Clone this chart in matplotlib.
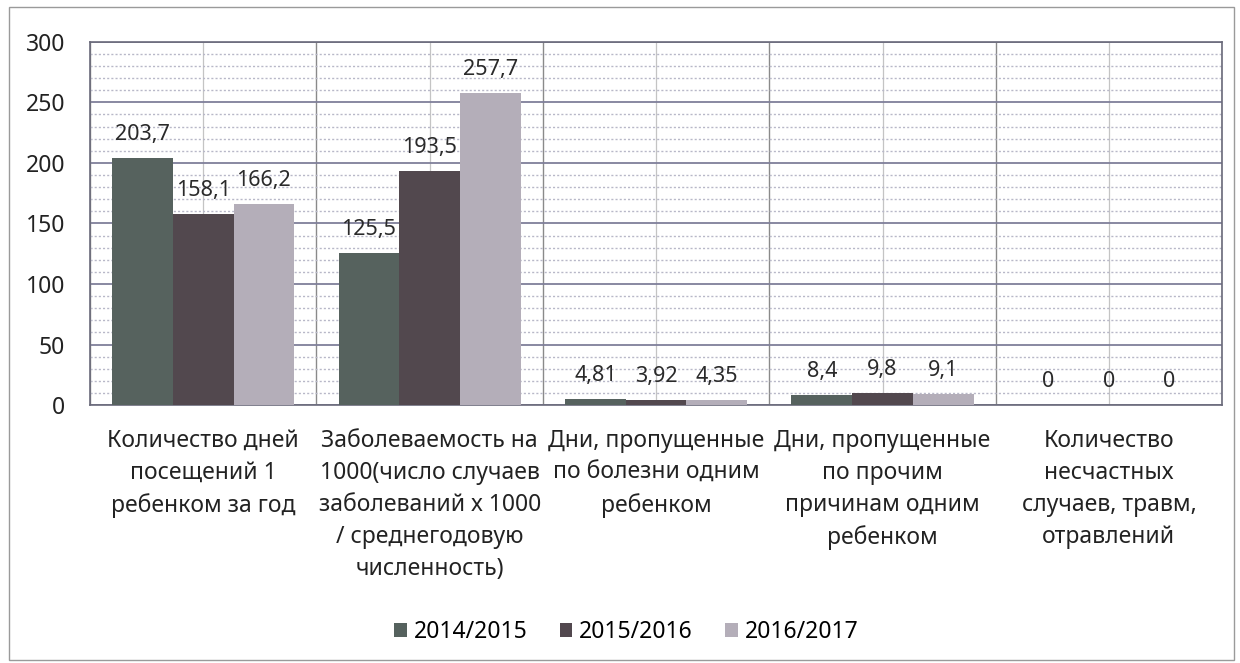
import numpy as np
import matplotlib
matplotlib.use("Agg")
import matplotlib.pyplot as plt
from matplotlib.patches import Rectangle

plt.rcParams['font.family'] = ['Noto Sans', 'DejaVu Sans']

# ---------------- data ----------------
categories = [
    "Количество дней\nпосещений 1\nребенком за год",
    "Заболеваемость на\n1000(число случаев\nзаболеваний х 1000\n/ среднегодовую\nчисленность)",
    "Дни, пропущенные\nпо болезни одним\nребенком",
    "Дни, пропущенные\nпо прочим\nпричинам одним\nребенком",
    "Количество\nнесчастных\nслучаев, травм,\nотравлений",
]
series_names = ["2014/2015", "2015/2016", "2016/2017"]
v_2014 = [203.7, 125.5, 4.81, 8.4, 0]
v_2015 = [158.1, 193.5, 3.92, 9.8, 0]
v_2016 = [166.2, 257.7, 4.35, 9.1, 0]
value_labels = [
    ["203,7", "125,5", "4,81", "8,4", "0"],
    ["158,1", "193,5", "3,92", "9,8", "0"],
    ["166,2", "257,7", "4,35", "9,1", "0"],
]
colors = ["#56625e", "#52484e", "#b4aeb9"]

# ---------------- plot ----------------
fig = plt.figure(figsize=(12.4, 6.63), dpi=100)
ax = fig.add_axes([0.0726, 0.389, 0.913, 0.548])

x = np.arange(len(categories))
w = 0.268
for i, vals in enumerate([v_2014, v_2015, v_2016]):
    pos = x + (i - 1) * w
    ax.bar(pos, vals, width=w, color=colors[i], label=series_names[i], zorder=3)
    for p, v, lab in zip(pos, vals, value_labels[i]):
        ax.annotate(lab, (p, v), xytext=(0, 17), textcoords="offset points",
                    ha="center", va="center", fontsize=15.5, color="#2a2a2a", zorder=4)

ax.set_xlim(-0.5, len(categories) - 0.5)
ax.set_ylim(0, 300)
ax.set_yticks(range(0, 301, 50))
ax.set_yticks(range(0, 301, 10), minor=True)
ax.set_xticks(x)
ax.set_xticklabels(categories, fontsize=16.5, linespacing=1.45, color="#222222")
ax.set_xticks(np.arange(-0.5, len(categories), 1.0), minor=True)
ax.tick_params(axis="both", which="both", length=0)
ax.tick_params(axis="x", which="major", pad=17)
ax.tick_params(axis="y", labelsize=16.5, pad=18, labelcolor="#222222")

ax.grid(axis="y", which="major", color="#7f7f9a", lw=1.3, zorder=0)
ax.grid(axis="y", which="minor", color="#b8b8c8", lw=1.0, ls=(0, (1.5, 1.5)), zorder=0)
ax.grid(axis="x", which="minor", color="#8a8a8a", lw=1.0, zorder=0)
ax.grid(axis="x", which="major", color="#c4c4c4", lw=0.9, zorder=0)
for s in ax.spines.values():
    s.set_color("#6a6a7a")
    s.set_linewidth(1.2)

leg = fig.legend(loc="center", bbox_to_anchor=(0.505, 0.047), ncol=3, frameon=False,
                 fontsize=16.5, handlelength=0.55, handleheight=0.55,
                 handletextpad=0.3, columnspacing=1.4)

fig.patches.append(Rectangle((0.007, 0.005), 0.988, 0.985, transform=fig.transFigure,
                             fill=False, edgecolor="#9a9a9a", lw=1.0))

fig.savefig("out.png", dpi=100)
